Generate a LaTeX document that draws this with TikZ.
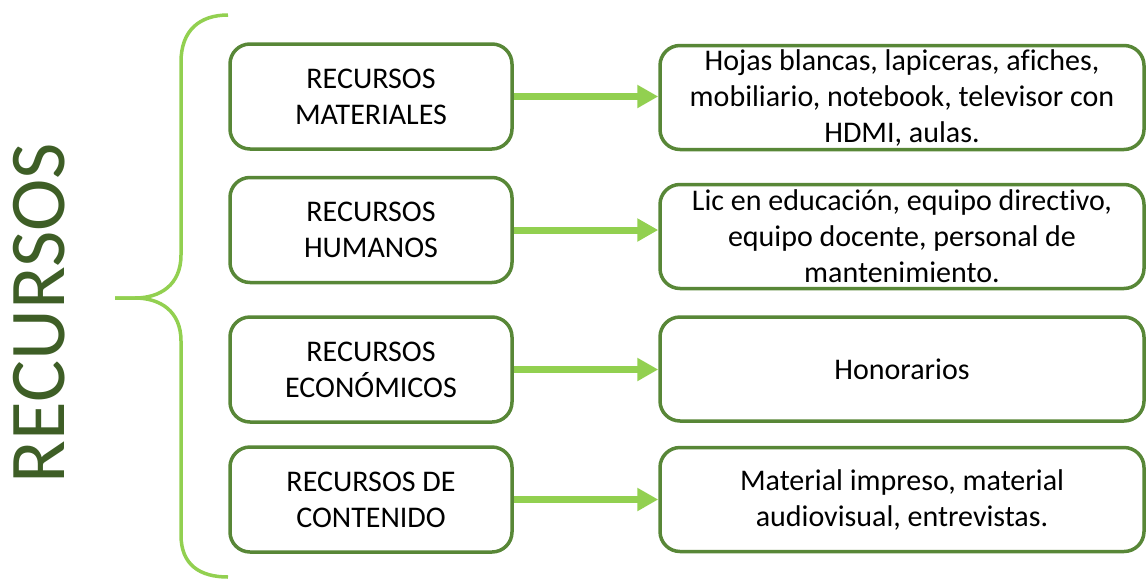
\documentclass[tikz,border=0pt]{standalone}
\usepackage{fontspec}
\setmainfont{Carlito}[Ligatures=NoCommon]
\usetikzlibrary{arrows.meta}
\definecolor{boxgreen}{RGB}{88,135,55}
\definecolor{lightgreen}{RGB}{146,208,80}
\definecolor{titlegreen}{RGB}{62,94,38}
\tikzset{
  resbox/.style={draw=boxgreen, line width=3.5pt, rounded corners=20pt, fill=white,
    align=center, inner sep=0pt, font=\fontsize{30}{36}\selectfont},
  leftbox/.style={resbox, minimum width=282pt, minimum height=105pt},
  rightbox/.style={resbox, minimum width=484pt, minimum height=104pt},
  conn/.style={draw=lightgreen, line width=7pt, -{Triangle[width=22pt,length=21pt]}},
  brace/.style={draw=lightgreen, line width=3.5pt}
}
\begin{document}
\begin{tikzpicture}[x=1pt,y=-1pt]
\useasboundingbox (0,0) rectangle (1148,579);
% title
\node[rotate=90, text=titlegreen, font=\fontsize{79}{80}\selectfont, inner sep=0pt] (title) at (39,313) {RECURSOS};
% brace
\draw[brace] (228,15) .. controls (200,15) and (181,30) .. (181,62)
  -- (181,255) .. controls (181,285) and (160,298) .. (135,298) -- (115,298);
\draw[brace] (115,298) -- (135,298) .. controls (160,298) and (181,311) .. (181,341)
  -- (181,535) .. controls (181,565) and (200,577) .. (228,577);
% left boxes
\node[leftbox] (l1) at (371,96.5) {RECURSOS\\MATERIALES};
\node[leftbox] (l2) at (371,230) {RECURSOS\\HUMANOS};
\node[leftbox] (l3) at (371,369.5) {RECURSOS\\ECONÓMICOS};
\node[leftbox] (l4) at (371,499.5) {RECURSOS DE\\CONTENIDO};
% right boxes
\node[rightbox] (r1) at (902,97.5) {Hojas blancas, lapiceras, afiches,\\mobiliario, notebook, televisor con\\HDMI, aulas.};
\node[rightbox] (r2) at (902,236.5) {Lic en educación, equipo directivo,\\equipo docente, personal de\\mantenimiento.};
\node[rightbox] (r3) at (902,369) {Honorarios};
\node[rightbox] (r4) at (902,499.5) {Material impreso, material\\audiovisual, entrevistas.};
% connectors
\draw[conn] (l1.east) -- (l1.east -| r1.west);
\draw[conn] (l2.east) -- (l2.east -| r2.west);
\draw[conn] (l3.east) -- (l3.east -| r3.west);
\draw[conn] (l4.east) -- (l4.east -| r4.west);
\end{tikzpicture}
\end{document}
